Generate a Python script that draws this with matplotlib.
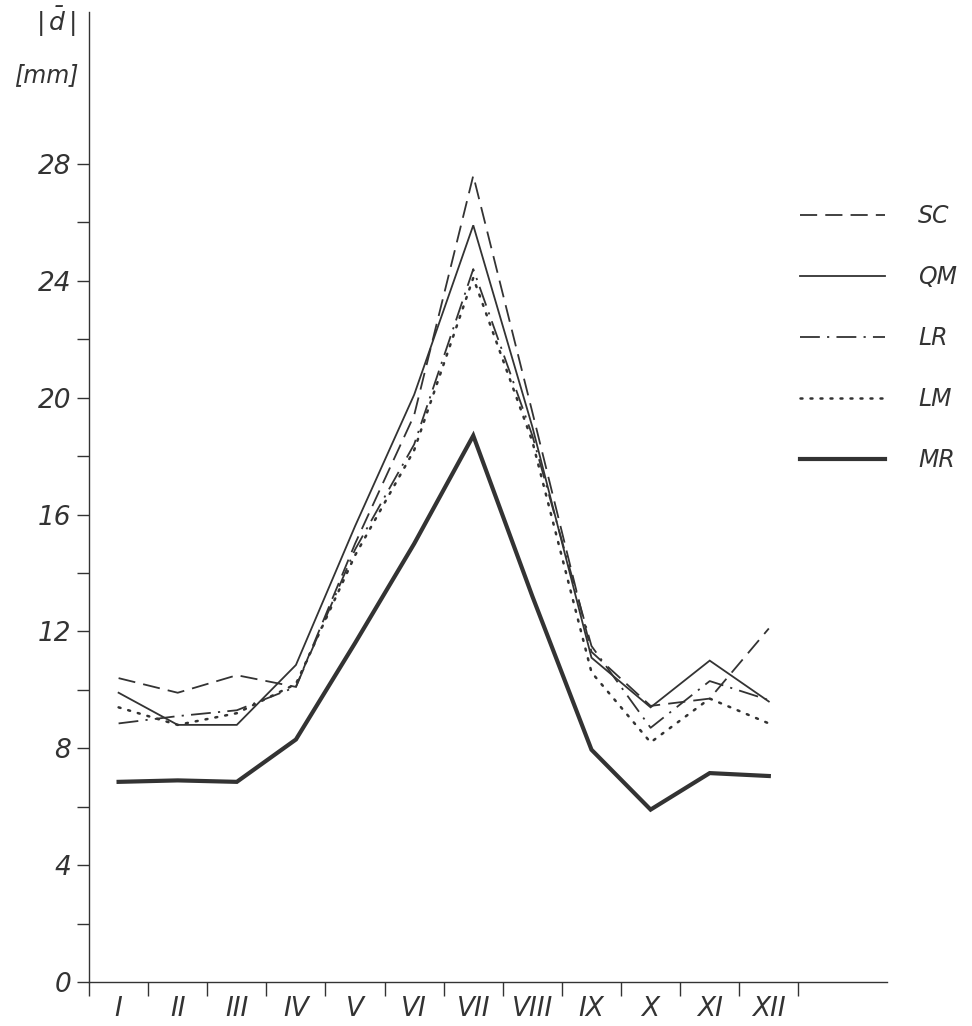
import matplotlib
matplotlib.use("Agg")
import matplotlib.pyplot as plt
from matplotlib.lines import Line2D

# monthly mean |d| values in mm
months = ["I", "II", "III", "IV", "V", "VI", "VII", "VIII", "IX", "X", "XI", "XII"]
sc = [10.4, 9.9, 10.5, 10.1, 15.0, 19.4, 27.6, 19.5, 11.3, 9.45, 9.7, 12.1]
qm = [9.9, 8.8, 8.8, 10.85, 15.6, 20.1, 25.9, 19.0, 11.1, 9.4, 11.0, 9.6]
lr = [8.85, 9.1, 9.3, 10.1, 14.8, 18.4, 24.4, 18.7, 11.5, 8.7, 10.3, 9.65]
lm = [9.4, 8.8, 9.2, 10.2, 14.6, 18.2, 24.1, 18.5, 10.6, 8.2, 9.7, 8.85]
mr = [6.85, 6.9, 6.85, 8.3, 11.6, 15.0, 18.7, 13.2, 7.95, 5.9, 7.15, 7.05]

ink = "#333333"
plt.rcParams["font.family"] = "DejaVu Sans"
plt.rcParams["font.style"] = "italic"

fig = plt.figure(figsize=(9.72, 10.26), dpi=100)
ax = fig.add_axes([0.0916, 0.0429, 0.8210, 0.9454])

x = [i + 0.5 for i in range(len(months))]

styles = [
    ("SC", sc, dict(lw=1.3, linestyle=(0, (9.5, 4.5)))),
    ("QM", qm, dict(lw=1.3, linestyle="-")),
    ("LR", lr, dict(lw=1.3, linestyle=(0, (11, 4, 1.2, 4)))),
    ("LM", lm, dict(lw=1.8, linestyle=(0, (0.8, 3.2)), dash_capstyle="round")),
    ("MR", mr, dict(lw=3.0, linestyle="-")),
]

handles = []
for name, vals, kw in styles:
    ax.plot(x, vals, color=ink, solid_joinstyle="miter", **kw)
    handles.append(Line2D([], [], color=ink, **kw))

ax.set_xlim(0, 13.5)
ax.set_ylim(0, 33.2)

for s in ["top", "right"]:
    ax.spines[s].set_visible(False)
for s in ["left", "bottom"]:
    ax.spines[s].set_color(ink)
    ax.spines[s].set_linewidth(1.0)

ax.set_yticks(range(0, 29, 4))
ax.set_yticks(range(2, 27, 4), minor=True)
ax.tick_params(axis="y", which="both", direction="out", length=9, width=1.0,
               color=ink, labelsize=19, labelcolor=ink, pad=4)

ax.set_xticks(range(0, 13))
ax.set_xticklabels([])
ax.set_xticks(x, minor=True)
ax.set_xticklabels(months, minor=True)
ax.tick_params(axis="x", which="major", direction="out", length=10, width=1.0, color=ink)
ax.tick_params(axis="x", which="minor", length=0, labelsize=19, labelcolor=ink, pad=10)

fig.text(0.057, 0.979, r"$|\,\bar{d}\,|$", fontsize=18, color=ink, ha="center", va="center")
fig.text(0.048, 0.927, "[mm]", fontsize=17, color=ink, ha="center", va="center")

leg = fig.legend(handles, [s[0] for s in styles], loc="upper left",
                 bbox_to_anchor=(0.823, 0.801), frameon=False, fontsize=17,
                 handlelength=3.6, handletextpad=1.4, labelspacing=1.57,
                 borderpad=0, borderaxespad=0)
for t in leg.get_texts():
    t.set_color(ink)

fig.savefig("out.png", dpi=100, facecolor="white")
